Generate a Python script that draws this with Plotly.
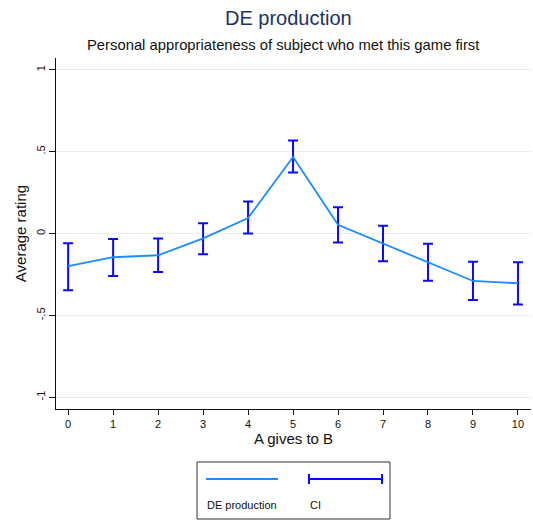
import plotly.graph_objects as go

# Average rating by amount A gives to B, with confidence interval bounds
gives = [0, 1, 2, 3, 4, 5, 6, 7, 8, 9, 10]
mean_rating = [-0.200, -0.145, -0.133, -0.030, 0.094, 0.467, 0.053, -0.063, -0.176, -0.290, -0.304]
ci_upper = [-0.060, -0.033, -0.030, 0.063, 0.196, 0.568, 0.161, 0.047, -0.063, -0.173, -0.176]
ci_lower = [-0.347, -0.260, -0.235, -0.127, 0.000, 0.372, -0.055, -0.170, -0.288, -0.406, -0.433]

y_ticks = [-1, -0.5, 0, 0.5, 1]
y_tick_text = ["-1", "-.5", "0", ".5", "1"]

LINE_COLOR = "#1a8cff"
CI_COLOR = "#0a0aff"
TITLE_COLOR = "#1c3461"
FONT = "Liberation Sans, Arial, sans-serif"

err_plus = [u - m for u, m in zip(ci_upper, mean_rating)]
err_minus = [m - l for m, l in zip(mean_rating, ci_lower)]

fig = go.Figure()

# Confidence interval caps (drawn as error bars on an invisible trace)
fig.add_trace(go.Scatter(
    x=gives, y=mean_rating, mode="markers",
    marker=dict(size=0.1, color="rgba(0,0,0,0)"),
    error_y=dict(type="data", symmetric=False, array=err_plus, arrayminus=err_minus,
                 color=CI_COLOR, thickness=2, width=5),
    showlegend=False, hoverinfo="skip",
))

# Mean rating line
fig.add_trace(go.Scatter(
    x=gives, y=mean_rating, mode="lines",
    line=dict(color=LINE_COLOR, width=1.8),
    showlegend=False,
))

W, H = 533, 520
L, R, T, B = 56, 2, 58, 111
pw, ph = W - L - R, H - T - B


def px(x):
    return (x - L) / pw


def py(y):
    return (H - B - y) / ph


shapes = [
    # legend frame
    dict(type="rect", xref="paper", yref="paper",
         x0=px(197), x1=px(390), y0=py(519), y1=py(462),
         line=dict(color="#333333", width=1), fillcolor="white", layer="above"),
    # legend: line sample
    dict(type="line", xref="paper", yref="paper",
         x0=px(206), x1=px(278), y0=py(479), y1=py(479),
         line=dict(color=LINE_COLOR, width=1.8)),
    # legend: CI sample
    dict(type="line", xref="paper", yref="paper",
         x0=px(309), x1=px(382), y0=py(479), y1=py(479),
         line=dict(color=CI_COLOR, width=2)),
    dict(type="line", xref="paper", yref="paper",
         x0=px(309), x1=px(309), y0=py(474), y1=py(484),
         line=dict(color=CI_COLOR, width=2)),
    dict(type="line", xref="paper", yref="paper",
         x0=px(382), x1=px(382), y0=py(474), y1=py(484),
         line=dict(color=CI_COLOR, width=2)),
]

annotations = [
    dict(text="DE production", xref="paper", yref="paper", x=px(288), y=py(18),
         showarrow=False, font=dict(size=20, color=TITLE_COLOR, family=FONT),
         xanchor="center", yanchor="middle"),
    dict(text="Personal appropriateness of subject who met this game first",
         xref="paper", yref="paper", x=px(283), y=py(45), showarrow=False,
         font=dict(size=14.8, color="#111111", family=FONT),
         xanchor="center", yanchor="middle"),
    dict(text="DE production", xref="paper", yref="paper", x=px(205), y=py(505),
         showarrow=False, font=dict(size=11, color="#111111", family=FONT),
         xanchor="left", yanchor="middle"),
    dict(text="CI", xref="paper", yref="paper", x=px(308), y=py(505),
         showarrow=False, font=dict(size=11, color="#111111", family=FONT),
         xanchor="left", yanchor="middle"),
]

fig.update_layout(
    width=W, height=H,
    margin=dict(l=L, r=R, t=T, b=B),
    paper_bgcolor="white", plot_bgcolor="white",
    font=dict(family=FONT, color="#111111"),
    shapes=shapes, annotations=annotations,
    showlegend=False,
)

fig.update_xaxes(
    range=[-0.27, 10.29], tickmode="array", tickvals=gives,
    ticks="outside", ticklen=5, tickcolor="#111111",
    showline=True, linecolor="#111111", linewidth=1,
    showgrid=False, zeroline=False,
    tickfont=dict(size=11),
    title=dict(text="A gives to B", font=dict(size=15), standoff=4),
)

fig.update_yaxes(
    range=[-1.072, 1.072], tickmode="array", tickvals=y_ticks, ticktext=y_tick_text,
    tickangle=-90, ticks="outside", ticklen=6, tickcolor="#111111",
    showline=True, linecolor="#111111", linewidth=1,
    showgrid=True, gridcolor="#e6eef0", gridwidth=1, zeroline=False,
    tickfont=dict(size=11),
    title=dict(text="Average rating", font=dict(size=15), standoff=4),
)

fig.write_html("out.html")
